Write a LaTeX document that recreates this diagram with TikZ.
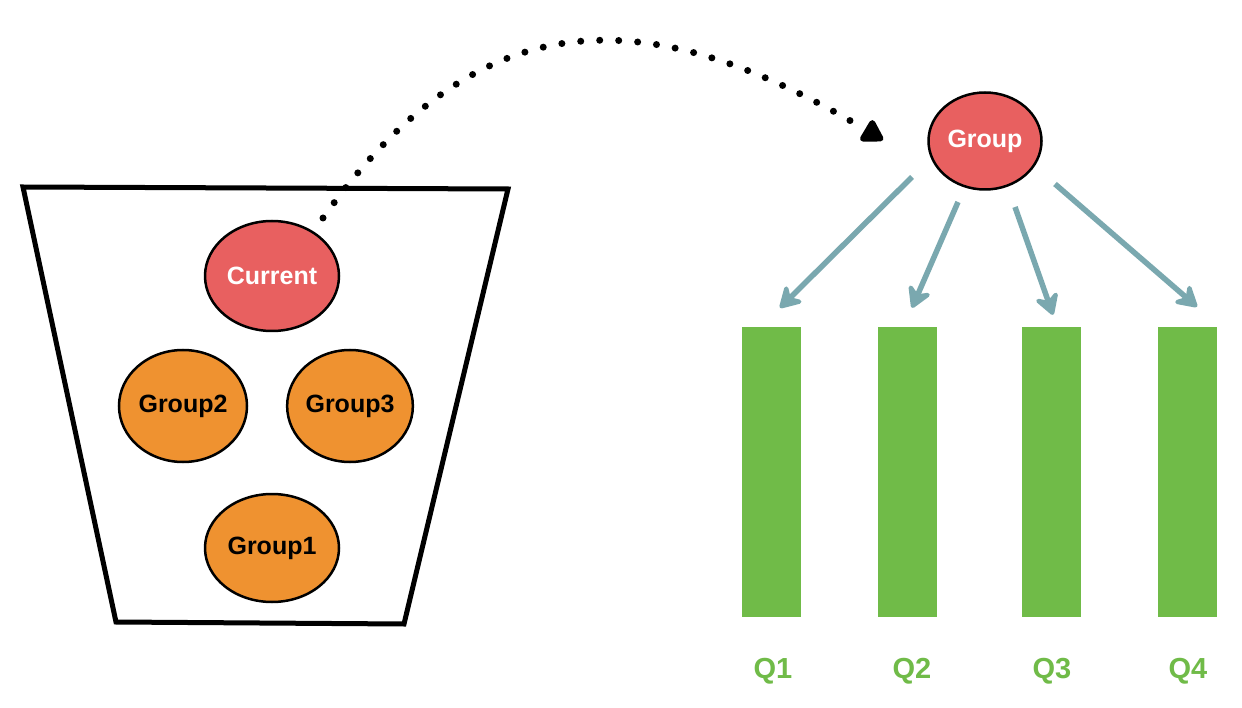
\documentclass[tikz,border=0pt]{standalone}
\usepackage{fontspec}
\setmainfont{Liberation Sans}
\usetikzlibrary{shapes.geometric,arrows.meta}
\definecolor{cred}{RGB}{232,96,96}
\definecolor{corange}{RGB}{239,146,48}
\definecolor{cgreen}{RGB}{112,187,72}
\definecolor{cteal}{RGB}{122,168,175}
\begin{document}
\begin{tikzpicture}[x=1pt,y=-1pt,
  redell/.style={ellipse, draw=black, line width=2.5pt, fill=cred, inner sep=0pt,
    font=\fontsize{25}{29}\selectfont\bfseries, text=white},
  orell/.style={ellipse, draw=black, line width=2.5pt, fill=corange, inner sep=0pt,
    font=\fontsize{25}{29}\selectfont\bfseries, text=black},
  bar/.style={rectangle, fill=cgreen, minimum width=59pt, minimum height=290pt, inner sep=0pt},
  qlab/.style={text=cgreen, font=\fontsize{29}{33}\selectfont\bfseries, inner sep=0pt},
  arr/.style={draw=cteal, line width=5.5pt, -{Stealth[length=26pt,width=30pt,inset=9pt,round]}},
  dotarr/.style={line width=7pt, line cap=round, dash pattern=on 0pt off 19pt,
    -{Triangle[length=24pt,width=27pt,round]}}
]
\useasboundingbox (0,0) rectangle (1242,708);
\fill[white] (0,0) rectangle (1242,708);

% bucket
\draw[line width=5pt, line join=miter] (23,187) -- (508,189) -- (404,624) -- (116,622) -- cycle;

% left nodes
\node[redell, minimum width=134pt, minimum height=110pt] (cur) at (272,276) {Current};
\node[orell, minimum width=128pt, minimum height=112pt] (g2) at (183,406) {Group2};
\node[orell, minimum width=124pt, minimum height=112pt] (g3) at (350,406) {Group3};
\node[orell, minimum width=134pt, minimum height=108pt] (g1) at (272,548) {Group1};

% right group node
\node[redell, minimum width=113pt, minimum height=97pt] (grp) at (985,141) {Group};

% bars
\node[bar] (q1) at (771.5,472) {};
\node[bar] (q2) at (907.5,472) {};
\node[bar] (q3) at (1051.5,472) {};
\node[bar] (q4) at (1187,472) {};

% labels
\node[qlab] (l1) at (773,671) {Q1};
\node[qlab] (l2) at (912,671) {Q2};
\node[qlab] (l3) at (1052,671) {Q3};
\node[qlab] (l4) at (1188,671) {Q4};

% arrows
\draw[arr] ([shift={(-73,36)}]grp.center) -- ([shift={(8.5,-19)}]q1.north);
\draw[arr] ([shift={(-27,61)}]grp.center) -- ([shift={(4.5,-19)}]q2.north);
\draw[arr] ([shift={(30,66)}]grp.center) -- ([shift={(1.5,-12)}]q3.north);
\draw[arr] ([shift={(70,43)}]grp.center) -- ([shift={(10,-20)}]q4.north);

% dotted curve
\draw[dotarr] ([shift={(51,-58)}]cur.center) .. controls (485,-10) and (656,5) .. ([shift={(-102,-1)}]grp.center);
\end{tikzpicture}
\end{document}
